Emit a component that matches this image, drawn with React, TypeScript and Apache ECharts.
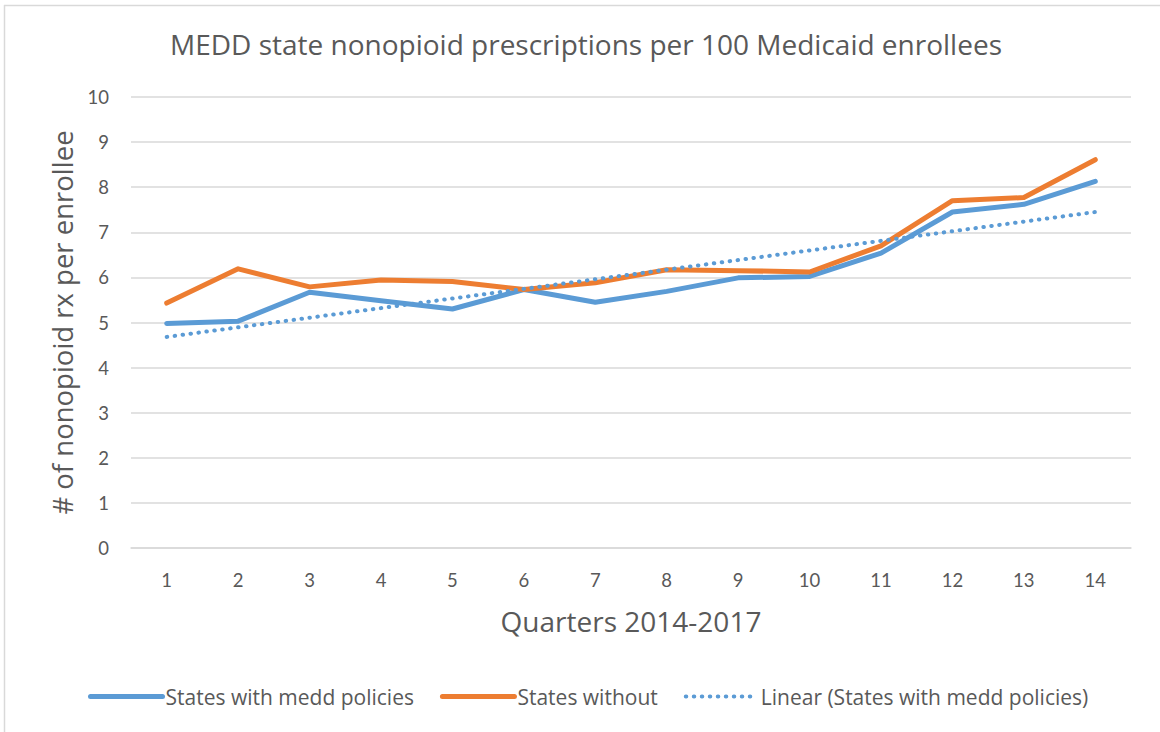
import React, { useEffect, useRef } from "react";
import * as echarts from "echarts";

const quarters = ["1", "2", "3", "4", "5", "6", "7", "8", "9", "10", "11", "12", "13", "14"];
const withMedd = [4.98, 5.03, 5.67, 5.48, 5.3, 5.73, 5.45, 5.69, 5.99, 6.02, 6.54, 7.45, 7.62, 8.13];
const without = [5.43, 6.19, 5.79, 5.94, 5.91, 5.73, 5.88, 6.17, 6.15, 6.12, 6.7, 7.7, 7.77, 8.61];
// Trend line endpoints; the segment between is drawn by connecting them.
const trend = [4.68, null, null, null, null, null, null, null, null, null, null, null, null, 7.45];

const FONT = "'Open Sans', Lato, sans-serif";
const TICK_FONT = "Lato, 'Open Sans', sans-serif";

export default function App() {
  const ref = useRef<HTMLDivElement>(null);
  useEffect(() => {
    if (!ref.current) return;
    const chart = echarts.init(ref.current, undefined, { renderer: "svg" });
    chart.setOption({
      animation: false,
      backgroundColor: "#ffffff",
      textStyle: { fontFamily: FONT },
      title: {
        text: "MEDD state nonopioid prescriptions per 100 Medicaid enrollees",
        left: 581,
        textAlign: "center",
        top: 25,
        textStyle: { fontFamily: FONT, fontSize: 28, fontWeight: "normal", color: "#595959" },
      },
      graphic: [
        { type: "line", shape: { x1: 4.5, y1: 5, x2: 4.5, y2: 732 }, style: { stroke: "#d9d9d9", lineWidth: 1.5 } },
        { type: "line", shape: { x1: 4, y1: 5.5, x2: 1160, y2: 5.5 }, style: { stroke: "#d9d9d9", lineWidth: 1.5 } },
      ],
      grid: { left: 131, right: 29, top: 97, bottom: 184, containLabel: false },
      legend: {
        left: 88,
        top: 686,
        padding: 0,
        itemWidth: 72,
        itemHeight: 14,
        itemGap: 26,
        itemStyle: { opacity: 0 },
        lineStyle: { width: "inherit", type: "inherit", cap: "round" },
        textStyle: { fontFamily: FONT, fontSize: 21, color: "#595959", padding: [0, 0, 0, -2] },
        data: ["States with medd policies", "States without", "Linear (States with medd policies)"],
      },
      xAxis: {
        type: "category",
        data: quarters,
        boundaryGap: true,
        axisTick: { show: false },
        axisLine: { lineStyle: { color: "#d9d9d9", width: 1.5 } },
        axisLabel: { color: "#595959", fontSize: 18.5, margin: 22, fontFamily: TICK_FONT },
        name: "Quarters 2014-2017",
        nameLocation: "middle",
        nameGap: 59,
        nameTextStyle: { fontFamily: FONT, fontSize: 28, color: "#595959" },
      },
      yAxis: {
        type: "value",
        min: 0,
        max: 10,
        interval: 1,
        axisLine: { show: false },
        axisTick: { show: false },
        splitLine: { lineStyle: { color: "#d9d9d9", width: 1.5 } },
        axisLabel: { color: "#595959", fontSize: 18.5, margin: 22, fontFamily: TICK_FONT },
        name: "# of nonopioid rx per enrollee",
        nameLocation: "middle",
        nameGap: 55,
        nameTextStyle: { fontFamily: FONT, fontSize: 27.5, color: "#595959" },
      },
      series: [
        {
          name: "States with medd policies",
          type: "line",
          data: withMedd,
          symbol: "none",
          lineStyle: { color: "#5b9bd5", width: 5, cap: "round", join: "round" },
          itemStyle: { color: "#5b9bd5" },
        },
        {
          name: "States without",
          type: "line",
          data: without,
          symbol: "none",
          lineStyle: { color: "#ed7d31", width: 5, cap: "round", join: "round" },
          itemStyle: { color: "#ed7d31" },
        },
        {
          name: "Linear (States with medd policies)",
          type: "line",
          data: trend,
          connectNulls: true,
          symbol: "none",
          lineStyle: { color: "#5b9bd5", width: 4, type: [0.5, 7.5], cap: "round" },
          itemStyle: { color: "#5b9bd5" },
        },
      ],
    });
    return () => chart.dispose();
  }, []);
  return <div ref={ref} style={{ position: "fixed", left: 0, top: 0, width: 1160, height: 732 }} />;
}
